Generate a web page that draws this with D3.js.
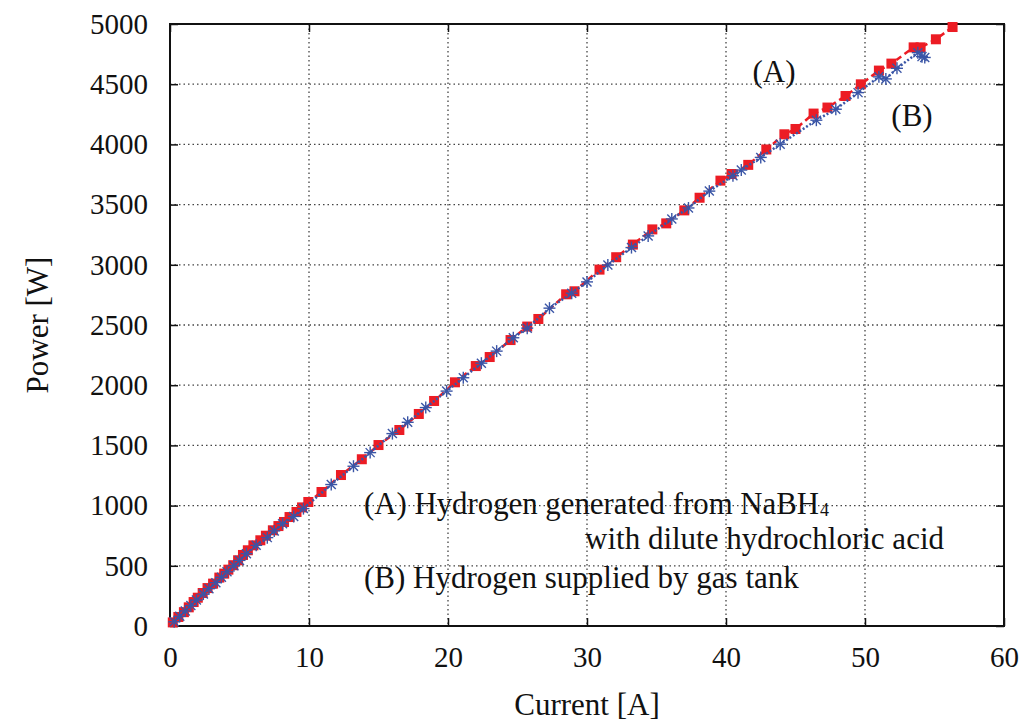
<!DOCTYPE html>
<html>
<head>
<meta charset="utf-8">
<script src="https://cdn.jsdelivr.net/npm/d3@7"></script>
<style>
  body { margin: 0; background: #fff; }
  text { font-family: "Liberation Serif", "Times New Roman", serif; fill: #111; }
</style>
</head>
<body>
<div id="chart"></div>
<script>
// (A) NaBH4 + dilute HCl : current [A], power [W]
let currentA = [0.2, 0.6, 1.0, 1.35, 1.7, 2.0, 2.35, 2.7, 3.1, 3.55, 3.9, 4.2, 4.55, 4.9, 5.25, 5.6, 6.0, 6.5, 6.9, 7.4, 7.8, 8.2, 8.6, 9.1, 9.5, 9.95, 10.9, 12.3,
    13.8, 15.0, 16.5, 17.9, 19.0, 20.5, 22.0, 23.0, 24.5, 25.7, 26.5, 28.5, 29.1, 30.9, 32.1, 33.3, 34.7, 35.7, 37.0, 38.1, 39.6, 40.4, 41.6, 42.9,
    44.2, 45.0, 46.3, 47.3, 48.6, 49.7, 51.0, 51.9, 53.5, 54.0, 55.1, 56.3];
let powerA = [30, 75, 115, 155, 199, 235, 274, 315, 352, 402, 435, 468, 505, 546, 590, 629, 670, 712, 750, 795, 830, 864, 905, 947, 985, 1030, 1113, 1254,
    1385, 1503, 1628, 1761, 1869, 2024, 2159, 2234, 2375, 2487, 2550, 2755, 2780, 2960, 3063, 3168, 3294, 3344, 3452, 3557, 3699, 3754, 3830, 3958,
    4084, 4128, 4256, 4306, 4402, 4499, 4613, 4671, 4806, 4806, 4873, 4975];

// (B) gas tank
let currentB = [0.3, 0.7, 1.1, 1.5, 1.9, 2.4, 2.8, 3.3, 3.7, 4.1, 4.6, 5.0, 5.5, 6.2, 7.0, 7.5, 8.1, 8.9, 9.6, 11.6, 13.2, 14.4, 16.0, 17.1, 18.4, 19.9,
    21.1, 22.4, 23.5, 24.7, 25.7, 27.3, 28.9, 30.0, 31.5, 33.2, 34.4, 36.1, 37.3, 38.8, 40.5, 41.1, 42.5, 43.9, 46.5, 47.9, 49.5, 51.0, 51.5, 52.3,
    53.8, 54.1, 54.3];
let powerB = [35, 80, 125, 170, 215, 265, 310, 360, 405, 450, 500, 545, 601, 670, 734, 790, 850, 910, 975, 1175, 1327, 1440, 1598, 1692, 1814, 1951,
    2062, 2183, 2283, 2394, 2474, 2640, 2764, 2858, 2998, 3143, 3240, 3381, 3472, 3612, 3740, 3787, 3892, 4002, 4201, 4292, 4430, 4561, 4544, 4632,
    4762, 4729, 4722];

let xTicks = [0, 10, 20, 30, 40, 50, 60];
let yTicks = [0, 500, 1000, 1500, 2000, 2500, 3000, 3500, 4000, 4500, 5000];

let width = 1026, height = 724;
let margin = {left: 170, right: 22, top: 24, bottom: 98};
let w = width - margin.left - margin.right,
    h = height - margin.top - margin.bottom;

let svg = d3.select('#chart').append('svg')
    .attr('width', width).attr('height', height);
let g = svg.append('g').attr('transform', `translate(${margin.left},${margin.top})`);

let x = d3.scaleLinear().domain([0, 60]).range([0, w]);
let y = d3.scaleLinear().domain([0, 5000]).range([h, 0]);

//网格
g.append('g').selectAll('line').data(xTicks.slice(1, -1)).enter().append('line')
    .attr('x1', d => x(d)).attr('x2', d => x(d)).attr('y1', 0).attr('y2', h)
    .attr('stroke', '#444').attr('stroke-width', 1.3).attr('stroke-dasharray', '1.5,3');
g.append('g').selectAll('line').data(yTicks.slice(1, -1)).enter().append('line')
    .attr('y1', d => y(d)).attr('y2', d => y(d)).attr('x1', 0).attr('x2', w)
    .attr('stroke', '#444').attr('stroke-width', 1.3).attr('stroke-dasharray', '1.5,3');

//坐标轴 (刻度朝内)
let fsTick = 29, fs = 31;
let xAxis = g.append('g').attr('transform', `translate(0,${h})`)
    .call(d3.axisBottom(x).tickValues(xTicks).tickSize(-8).tickPadding(20).tickFormat(d3.format('d')));
let xAxisTop = g.append('g')
    .call(d3.axisTop(x).tickValues(xTicks).tickSize(-8).tickFormat(''));
let yAxis = g.append('g')
    .call(d3.axisLeft(y).tickValues(yTicks).tickSize(-8).tickPadding(22).tickFormat(d3.format('d')));
let yAxisRight = g.append('g').attr('transform', `translate(${w},0)`)
    .call(d3.axisRight(y).tickValues(yTicks).tickSize(-8).tickFormat(''));
[xAxis, xAxisTop, yAxis, yAxisRight].forEach(a => {
    a.select('.domain').remove();
    a.selectAll('line').attr('stroke', '#111').attr('stroke-width', 1.5);
    a.selectAll('text').attr('font-size', fsTick).attr('font-family', '"Liberation Serif", serif').attr('fill', '#111');
});
g.append('rect').attr('width', w).attr('height', h)
    .attr('fill', 'none').attr('stroke', '#111').attr('stroke-width', 2);

//数据线
let line = (xs, ys) => d3.line()(xs.map((d, i) => [x(d), y(ys[i])]));
let red = '#ec1c24', blue = '#3a55a6';

g.append('path').attr('d', line(currentA, powerA))
    .attr('fill', 'none').attr('stroke', red).attr('stroke-width', 2.5).attr('stroke-dasharray', '6,4');
g.selectAll('.sq').data(currentA).enter().append('rect').attr('class', 'sq')
    .attr('x', d => x(d) - 5).attr('y', (d, i) => y(powerA[i]) - 5)
    .attr('width', 10).attr('height', 10).attr('fill', red);

g.append('path').attr('d', line(currentB, powerB))
    .attr('fill', 'none').attr('stroke', blue).attr('stroke-width', 2.5).attr('stroke-dasharray', '2,2');
let star = g.selectAll('.st').data(currentB).enter().append('g').attr('class', 'st')
    .attr('transform', (d, i) => `translate(${x(d)},${y(powerB[i])})`);
[[-6, 0, 6, 0], [0, -6, 0, 6], [-4.5, -4.5, 4.5, 4.5], [-4.5, 4.5, 4.5, -4.5]].forEach(s => {
    star.append('line').attr('x1', s[0]).attr('y1', s[1]).attr('x2', s[2]).attr('y2', s[3])
        .attr('stroke', blue).attr('stroke-width', 1.4);
});

//标注
svg.append('text').attr('x', 774).attr('y', 82).attr('text-anchor', 'middle').attr('font-size', fs).text('(A)');
svg.append('text').attr('x', 912).attr('y', 126).attr('text-anchor', 'middle').attr('font-size', fs).text('(B)');

svg.append('text').attr('x', 364).attr('y', 514).attr('font-size', fs)
    .attr('textLength', 455).attr('lengthAdjust', 'spacingAndGlyphs')
    .text('(A) Hydrogen generated from NaBH');
svg.append('text').attr('x', 820).attr('y', 516).attr('font-size', 18).text('4');
svg.append('text').attr('x', 944).attr('y', 549).attr('text-anchor', 'end').attr('font-size', fs)
    .text('with dilute hydrochloric acid');
svg.append('text').attr('x', 364).attr('y', 588).attr('font-size', fs).text('(B) Hydrogen supplied by gas tank');

//轴标题
svg.append('text').attr('x', margin.left + w / 2).attr('y', 715).attr('text-anchor', 'middle')
    .attr('font-size', fs).text('Current [A]');
svg.append('text').attr('transform', `translate(48,${margin.top + h / 2}) rotate(-90)`)
    .attr('text-anchor', 'middle').attr('font-size', fs).text('Power [W]');
</script>
</body>
</html>
